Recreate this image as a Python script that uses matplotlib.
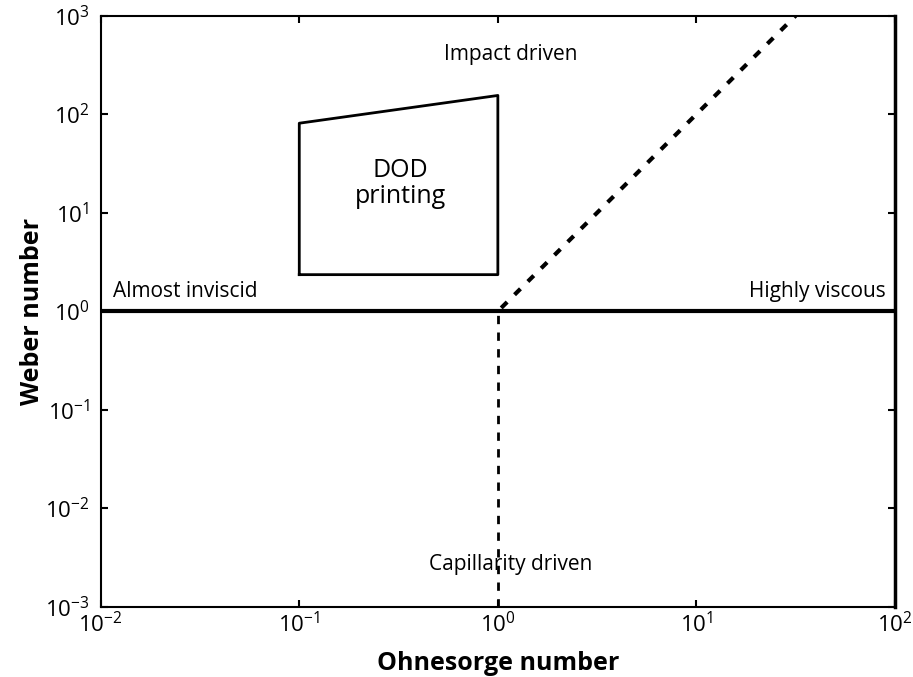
import matplotlib
matplotlib.use('Agg')
import matplotlib.pyplot as plt
from matplotlib.ticker import NullFormatter, NullLocator
import numpy as np

plt.rcParams['font.family'] = ['Open Sans', 'DejaVu Sans']

# Datos del diagrama Oh-We
# linea We = 1 (horizontal)
hline_x = [1e-2, 1e2]
hline_y = [1, 1]
# linea vertical Oh = 1 (punteada)
vline_x = [1, 1]
vline_y = [1e-3, 1]
# linea diagonal (punteada)
diag_x = [1.04, 31.6]
diag_y = [1.08, 1000]
# region de impresion DOD
dod_x = [0.1, 0.1, 1.0, 1.0, 0.1]
dod_y = [2.35, 81, 155, 2.35, 2.35]

fig = plt.figure(figsize=(9.13, 6.77), dpi=100)
ax = fig.add_axes([100.7/913, 1 - 606.7/677, (895 - 100.7)/913, (606.7 - 15.7)/677])

ax.plot(hline_x, hline_y, color='black', lw=3)
ax.plot(vline_x, vline_y, color='black', lw=2, ls=(0, (3, 3)))
ax.plot(diag_x, diag_y, color='black', lw=3, ls=(0, (2, 2.5)))
ax.plot(dod_x, dod_y, color='black', lw=2)

ax.set_xscale('log')
ax.set_yscale('log')
ax.set_xlim(1e-2, 1e2)
ax.set_ylim(1e-3, 1e3)
for a in (ax.xaxis, ax.yaxis):
    a.set_minor_locator(NullLocator())
    a.set_minor_formatter(NullFormatter())
ax.tick_params(which='major', direction='in', length=5, width=1.5,
               top=True, right=True, labelsize=16)
ax.tick_params(axis='x', pad=4)
ax.tick_params(axis='y', pad=8)

ax.set_xlabel('Ohnesorge number', fontsize=18, fontweight='bold', labelpad=10)
ax.set_ylabel('Weber number', fontsize=18, fontweight='bold', labelpad=0)

ax.text(1.16, 400, 'Impact driven', fontsize=15, ha='center', va='center')
ax.text(0.0115, 1.6, 'Almost inviscid', fontsize=15, ha='left', va='center')
ax.text(90, 1.6, 'Highly viscous', fontsize=15, ha='right', va='center')
ax.text(1.16, 0.0027, 'Capillarity driven', fontsize=15, ha='center', va='center')
ax.text(0.324, 20, 'DOD\nprinting', fontsize=18, ha='center', va='center', linespacing=1.05)

for s in ax.spines.values():
    s.set_linewidth(1.5)
ax.spines['right'].set_linewidth(2.5)

fig.savefig('out.png', dpi=100)
